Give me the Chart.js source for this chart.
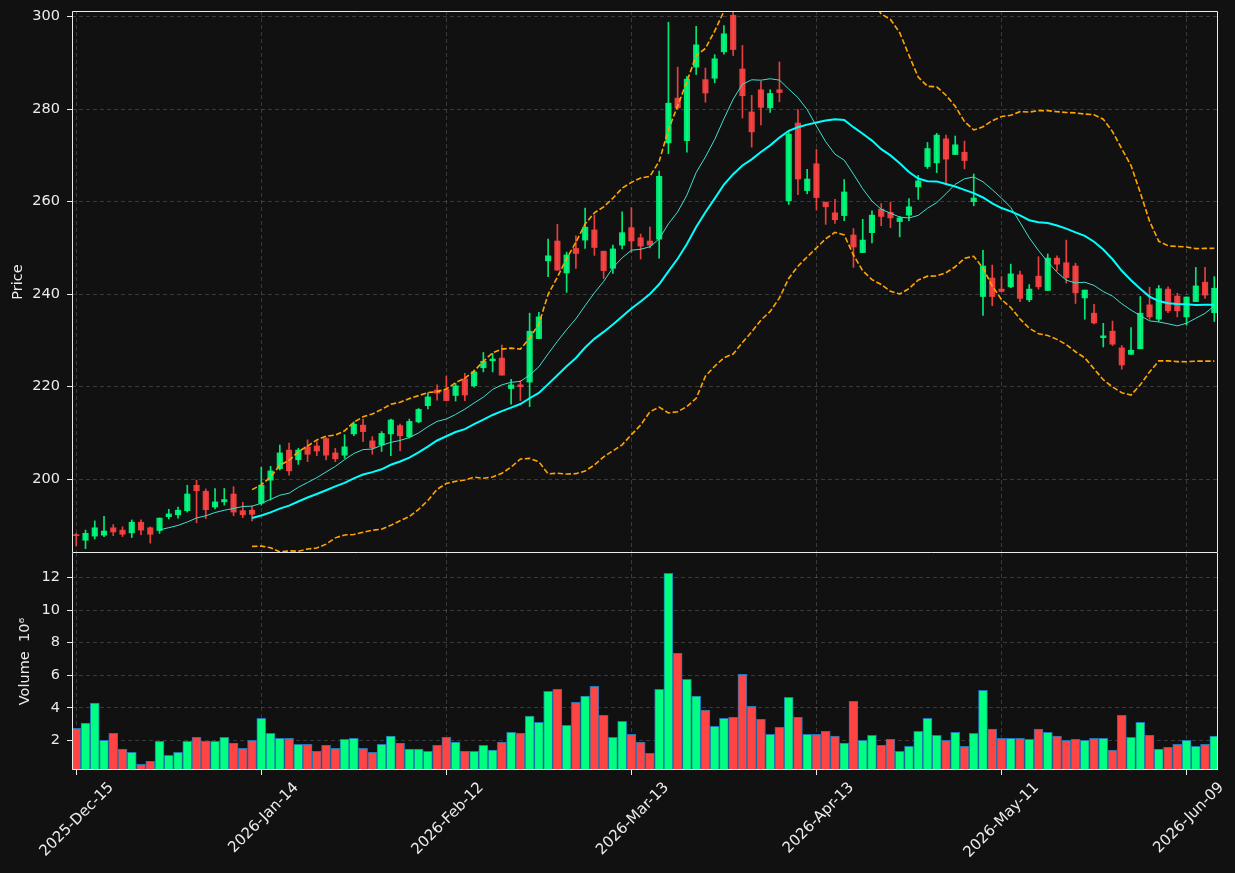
<!DOCTYPE html>
<html>
<head>
<meta charset="utf-8">
<script src="https://cdn.jsdelivr.net/npm/chart.js@4.4.1/dist/chart.umd.min.js"></script>
<style>
  html, body { margin: 0; padding: 0; background: #111111; }
  #wrap { position: relative; width: 1235px; height: 873px; overflow: hidden; }
  canvas { position: absolute; left: 0; }
  #priceChart { top: 0; }
  #volChart { top: 545px; }
</style>
</head>
<body>
<div id="wrap">
  <canvas id="priceChart" width="1235" height="556"></canvas>
  <canvas id="volChart" width="1235" height="328"></canvas>
</div>
<script>
// daily candles, one per trading day (index 0 = 2025-12-15)
const opens = [
  188.0, 186.8, 187.7, 187.9, 189.5, 189.0, 188.4, 190.7, 189.5, 188.9,
  191.9, 192.3, 193.2, 198.7, 197.4, 194.0, 195.1, 196.8, 193.2, 193.3,
  194.8, 199.8, 202.3, 206.3, 204.2, 207.0, 207.2, 208.8, 205.7, 205.2,
  209.8, 211.7, 208.3, 207.4, 209.8, 211.6, 209.2, 212.4, 215.9, 219.3,
  219.4, 218.1, 221.7, 220.2, 224.1, 225.6, 226.2, 219.6, 220.4, 221.0,
  230.4, 247.2, 251.5, 244.6, 249.9, 251.7, 253.9, 249.3, 245.6, 250.6,
  254.4, 252.2, 251.5, 251.9, 272.7, 282.4, 273.2, 289.1, 286.4, 286.7,
  292.4, 300.3, 288.7, 279.4, 284.2, 280.3, 284.2, 260.2, 277.0, 262.4,
  268.2, 259.9, 257.6, 257.0, 252.8, 249.0, 253.3, 258.4, 257.7, 255.7,
  257.1, 263.2, 267.6, 268.4, 273.6, 270.2, 270.7, 260.0, 239.5, 243.5,
  241.1, 241.6, 244.2, 238.8, 243.9, 240.8, 247.8, 246.8, 246.1, 239.2,
  235.9, 230.6, 232.0, 228.4, 227.0, 228.2, 237.7, 234.6, 241.1, 239.6,
  235.1, 238.4, 242.6, 236.0
];
const highs = [
  188.3, 189.0, 191.0, 192.0, 190.2, 189.7, 191.2, 191.2, 189.7, 191.6,
  193.5, 194.0, 198.7, 199.8, 197.9, 198.0, 198.0, 198.4, 195.0, 194.2,
  202.6, 202.8, 207.4, 207.8, 206.7, 208.5, 208.1, 209.0, 206.7, 209.6,
  212.4, 213.0, 209.2, 210.3, 213.0, 211.9, 213.0, 215.3, 218.7, 220.4,
  222.3, 220.7, 222.9, 223.6, 227.4, 227.2, 229.0, 221.6, 221.3, 235.9,
  236.1, 251.9, 255.1, 249.1, 252.6, 258.6, 257.1, 249.3, 250.6, 257.8,
  258.7, 253.0, 254.5, 266.6, 298.8, 289.1, 287.1, 297.9, 288.9, 291.8,
  298.1, 301.0, 293.8, 283.0, 286.0, 284.2, 290.2, 275.2, 279.9, 267.0,
  271.3, 259.9, 260.5, 264.8, 254.2, 256.2, 258.0, 259.6, 259.9, 256.8,
  260.7, 265.7, 272.8, 274.8, 274.4, 274.2, 273.1, 266.0, 249.5, 246.3,
  243.8, 246.5, 245.0, 242.1, 248.1, 248.7, 248.3, 251.7, 246.7, 240.9,
  237.8, 233.7, 234.2, 228.9, 232.8, 239.5, 241.5, 241.9, 241.6, 240.2,
  239.4, 245.8, 245.8, 243.8
];
const lows = [
  185.6, 185.0, 187.1, 187.6, 187.8, 187.6, 187.4, 188.0, 186.2, 188.3,
  191.4, 191.6, 192.9, 190.6, 191.5, 193.6, 194.4, 192.1, 191.7, 191.0,
  194.4, 195.5, 202.0, 200.9, 203.2, 203.8, 205.1, 204.2, 203.8, 204.5,
  209.4, 208.1, 205.4, 206.0, 205.1, 206.2, 208.9, 212.2, 215.2, 217.1,
  216.9, 216.9, 217.0, 219.9, 223.2, 223.2, 222.5, 216.2, 217.0, 215.7,
  230.4, 243.8, 245.2, 240.4, 245.6, 249.9, 248.4, 243.4, 244.5, 249.8,
  249.0, 247.6, 250.0, 247.8, 270.4, 279.9, 270.7, 287.5, 281.5, 285.7,
  291.9, 291.6, 278.1, 271.8, 276.6, 279.3, 281.6, 259.4, 261.5, 261.7,
  258.2, 255.1, 255.3, 255.9, 245.8, 249.0, 251.1, 254.8, 254.4, 252.4,
  255.9, 260.5, 267.2, 266.3, 264.0, 270.2, 267.1, 259.1, 235.4, 237.5,
  240.5, 241.4, 238.4, 238.4, 241.1, 240.8, 245.1, 242.4, 238.0, 234.6,
  233.6, 228.6, 228.9, 223.8, 227.0, 228.2, 234.6, 234.1, 236.0, 235.1,
  233.3, 238.4, 239.1, 234.1
];
const closes = [
  187.8, 188.3, 189.5, 188.8, 188.6, 188.1, 190.7, 189.0, 188.1, 191.6,
  192.5, 193.3, 196.8, 197.5, 193.4, 195.1, 195.6, 192.9, 192.3, 192.4,
  198.7, 201.8, 205.7, 201.8, 206.3, 205.4, 206.1, 205.2, 204.4, 207.0,
  211.9, 210.3, 206.8, 209.9, 212.8, 209.4, 212.5, 215.1, 217.8, 218.6,
  217.0, 220.2, 218.2, 223.2, 225.5, 226.0, 222.5, 220.4, 220.0, 232.0,
  235.1, 248.3, 245.2, 248.5, 248.8, 254.5, 250.1, 245.1, 249.8, 253.3,
  251.5, 250.4, 250.6, 265.5, 281.3, 280.3, 286.5, 293.9, 283.5, 290.9,
  296.3, 292.9, 282.9, 275.1, 280.4, 283.4, 283.6, 274.6, 264.9, 264.9,
  260.9, 258.9, 256.1, 262.1, 250.2, 251.7, 257.1, 256.8, 256.5, 256.5,
  258.9, 264.5, 271.5, 274.4, 269.2, 272.3, 268.9, 260.8, 246.1, 239.5,
  240.6, 244.4, 239.1, 241.1, 241.6, 247.8, 246.5, 243.6, 240.3, 240.9,
  233.8, 231.0, 229.2, 224.7, 227.9, 235.9, 235.1, 241.2, 236.4, 236.4,
  239.4, 241.8, 239.8, 241.3
];
// volume in millions
const volumes = [
  2.74, 3.05, 4.28, 2.00, 2.43, 1.45, 1.26, 0.52, 0.71, 1.94,
  1.08, 1.26, 1.94, 2.18, 1.94, 1.94, 2.18, 1.82, 1.51, 2.00,
  3.35, 2.43, 2.12, 2.12, 1.75, 1.75, 1.32, 1.69, 1.51, 2.06,
  2.12, 1.51, 1.26, 1.75, 2.25, 1.82, 1.45, 1.45, 1.32, 1.69,
  2.18, 1.88, 1.32, 1.32, 1.69, 1.39, 1.88, 2.49, 2.43, 3.48,
  3.11, 5.01, 5.14, 2.92, 4.34, 4.71, 5.32, 3.54, 2.18, 3.17,
  2.37, 1.88, 1.20, 5.14, 12.27, 7.35, 5.75, 4.71, 3.85, 2.86,
  3.35, 3.41, 6.06, 4.09, 3.29, 2.37, 2.80, 4.64, 3.41, 2.37,
  2.37, 2.55, 2.25, 1.82, 4.40, 2.00, 2.31, 1.69, 2.06, 1.32,
  1.63, 2.55, 3.35, 2.31, 2.00, 2.49, 1.63, 2.43, 5.07, 2.68,
  2.12, 2.12, 2.12, 2.06, 2.68, 2.49, 2.25, 2.00, 2.06, 2.00,
  2.12, 2.12, 1.39, 3.54, 2.18, 3.11, 2.31, 1.45, 1.57, 1.75,
  2.00, 1.63, 1.75, 2.25
];

const tickIdx = [0, 20, 40, 60, 80, 100, 120];
const tickLabels = ['2025-Dec-15', '2026-Jan-14', '2026-Feb-12', '2026-Mar-13', '2026-Apr-13', '2026-May-11', '2026-Jun-09'];
const priceTicks = [200, 220, 240, 260, 280, 300];
const volTicks = [2, 4, 6, 8, 10, 12];

const UP = 'rgba(0, 255, 128, 0.9)';
const DOWN = 'rgba(255, 68, 68, 0.9)';
const VOL_UP = '#00ff80';
const VOL_DOWN = '#ff4444';
const TXT = '#ececec';
const GRID = 'rgba(255, 255, 255, 0.17)';
const FONT = { family: 'DejaVu Sans', size: 14.5 };
const XFONT = { family: 'DejaVu Sans', size: 15 };

const up = closes.map((c, i) => c >= opens[i]);

// moving averages / bollinger from the closes
const mean = a => a.reduce((s, v) => s + v, 0) / a.length;
const sdev = a => {
  const m = mean(a);
  return Math.sqrt(a.reduce((s, v) => s + (v - m) * (v - m), 0) / (a.length - 1));
};
function rolling(n, fn) {
  const out = [];
  for (let i = n - 1; i < closes.length; i++) {
    out.push({ x: i, y: fn(closes.slice(i - n + 1, i + 1)) });
  }
  return out;
}
const ma10 = rolling(10, mean);
const ma20 = rolling(20, mean);
const bbUpper = rolling(20, a => mean(a) + 2 * sdev(a));
const bbLower = rolling(20, a => mean(a) - 2 * sdev(a));

function frame(drawTop) {
  return {
    id: 'frame',
    afterDraw(chart) {
      const { ctx, chartArea: a } = chart;
      ctx.save();
      ctx.strokeStyle = '#ececec';
      ctx.lineWidth = 1;
      ctx.beginPath();
      if (drawTop) {
        ctx.moveTo(a.left + 0.5, a.bottom - 0.5);
        ctx.lineTo(a.left + 0.5, a.top + 0.5);
        ctx.lineTo(a.right - 0.5, a.top + 0.5);
        ctx.lineTo(a.right - 0.5, a.bottom - 0.5);
        ctx.lineTo(a.left + 0.5, a.bottom - 0.5);
      } else {
        ctx.moveTo(a.left + 0.5, a.top);
        ctx.lineTo(a.left + 0.5, a.bottom - 0.5);
        ctx.lineTo(a.right - 0.5, a.bottom - 0.5);
        ctx.lineTo(a.right - 0.5, a.top);
      }
      ctx.stroke();
      ctx.restore();
    }
  };
}

// no automatic label overflow padding, the plot box is set by layout.padding
function noPad(s) {
  s.paddingTop = 0;
  s.paddingBottom = 0;
  s.paddingLeft = 0;
  s.paddingRight = 0;
}

const xBase = {
  type: 'linear',
  min: -0.46,
  max: 123.4,
  offset: false,
  grid: { offset: false, color: GRID, lineWidth: 1, tickColor: TXT, tickLength: 5 },
  border: { display: false, dash: [4, 3] },
  afterBuildTicks: s => { s.ticks = tickIdx.map(v => ({ value: v })); }
};

function lineSet(data, color, width, dash) {
  return {
    type: 'line',
    data: data,
    borderColor: color,
    borderWidth: width,
    borderDash: dash || [],
    pointRadius: 0,
    fill: false,
    tension: 0,
    clip: 0,
    order: 0
  };
}

Chart.defaults.animation = false;

new Chart(document.getElementById('priceChart'), {
  type: 'bar',
  data: {
    datasets: [
      lineSet(bbUpper, '#ffa500', 1.6, [5.5, 2.4]),
      lineSet(bbLower, '#ffa500', 1.6, [5.5, 2.4]),
      lineSet(ma10, '#40e0d0', 1),
      lineSet(ma20, '#00ffff', 2),
      {
        data: opens.map((o, i) => ({ x: i, y: [o, closes[i]] })),
        backgroundColor: up.map(u => u ? UP : DOWN),
        barThickness: 5.5,
        minBarLength: 1,
        grouped: false,
        borderWidth: 0,
        order: 2
      },
      {
        data: lows.map((l, i) => ({ x: i, y: [l, highs[i]] })),
        backgroundColor: up.map(u => u ? UP : DOWN),
        barThickness: 1,
        grouped: false,
        borderWidth: 0,
        order: 3
      }
    ]
  },
  options: {
    responsive: false,
    devicePixelRatio: 1,
    layout: { autoPadding: false, padding: { left: 0, right: 17, top: 11, bottom: 3 } },
    plugins: { legend: { display: false }, tooltip: { enabled: false } },
    scales: {
      x: Object.assign({}, xBase, {
        ticks: { display: false },
        grid: Object.assign({}, xBase.grid, { drawTicks: false }),
        afterFit: s => { s.height = 0; noPad(s); }
      }),
      y: {
        min: 184.05,
        max: 301.23,
        grid: { color: GRID, lineWidth: 1, tickColor: TXT, tickLength: 5 },
        border: { display: false, dash: [4, 3] },
        afterBuildTicks: s => { s.ticks = priceTicks.map(v => ({ value: v })); },
        ticks: { color: TXT, font: FONT, padding: 7, callback: v => String(v) },
        title: { display: true, text: 'Price', color: TXT, font: FONT, padding: { top: 10, bottom: 0 } },
        afterFit: s => { s.width = 72; noPad(s); }
      }
    }
  },
  plugins: [frame(true)]
});

new Chart(document.getElementById('volChart'), {
  type: 'bar',
  data: {
    datasets: [{
      data: volumes.map((v, i) => ({ x: i, y: v })),
      backgroundColor: up.map(u => u ? VOL_UP : VOL_DOWN),
      borderColor: '#1f77b4',
      borderWidth: 1,
      borderSkipped: false,
      barThickness: 9,
      grouped: false
    }]
  },
  options: {
    responsive: false,
    devicePixelRatio: 1,
    layout: { autoPadding: false, padding: { left: 0, right: 17, top: 8, bottom: 0 } },
    plugins: { legend: { display: false }, tooltip: { enabled: false } },
    scales: {
      x: Object.assign({}, xBase, {
        ticks: {
          color: TXT, font: XFONT, autoSkip: false,
          minRotation: 45, maxRotation: 45, labelOffset: 35, padding: 4,
          callback: v => tickLabels[tickIdx.indexOf(v)]
        },
        afterFit: s => { s.height = 103; noPad(s); }
      }),
      y: {
        min: 0.17,
        max: 13.52,
        grid: { color: GRID, lineWidth: 1, tickColor: TXT, tickLength: 5 },
        border: { display: false, dash: [4, 3] },
        afterBuildTicks: s => { s.ticks = volTicks.map(v => ({ value: v })); },
        ticks: { color: TXT, font: FONT, padding: 7, callback: v => String(v) },
        title: { display: true, text: 'Volume  10⁶', color: TXT, font: FONT, padding: { top: 17, bottom: 0 } },
        afterFit: s => { s.width = 72; noPad(s); }
      }
    }
  },
  plugins: [frame(false)]
});
</script>
</body>
</html>
